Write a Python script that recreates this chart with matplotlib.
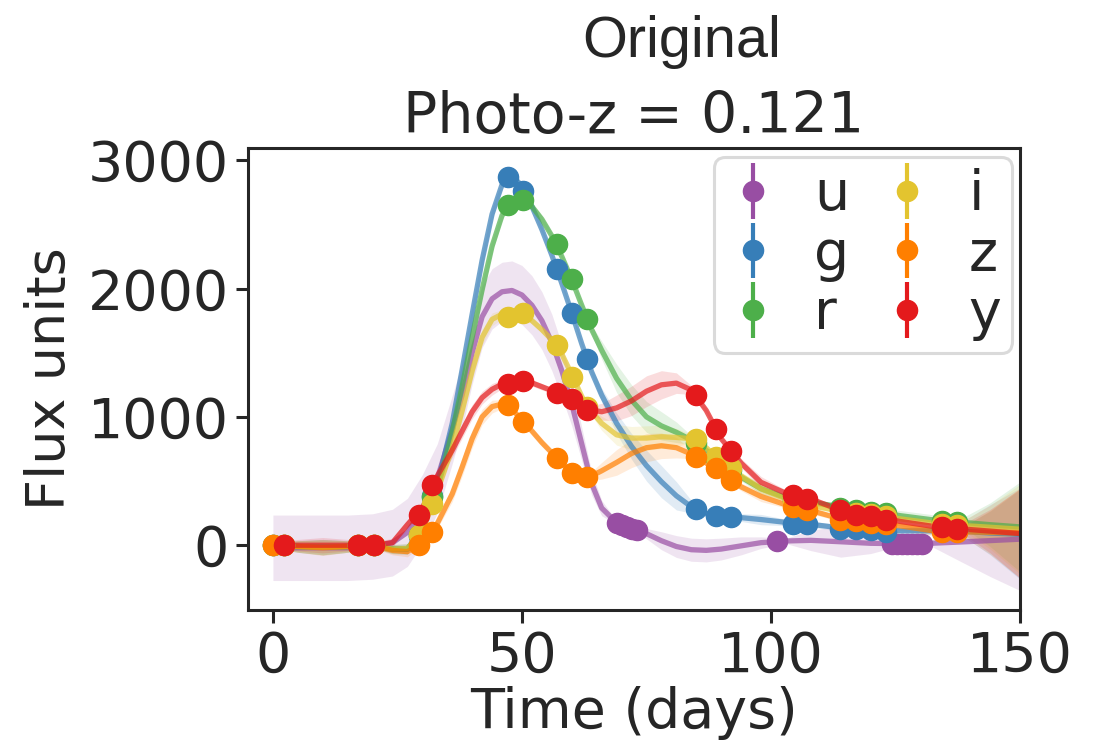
import numpy as np
import matplotlib
matplotlib.use("Agg")
import matplotlib.pyplot as plt
import seaborn as sns

# GP prediction grid (days) and per-band mean / std
T_GRID = [0, 5, 10, 15, 20, 24, 27, 30, 33,
          36, 38, 40, 42, 44, 46, 48, 50, 52, 54, 56, 58, 60, 62, 64, 66,
          69, 72, 75, 78, 81, 84, 87, 90, 94, 98, 103, 108, 114, 120, 126, 132, 138, 144, 150]

u_mean = [-20, -20, -20, -20, -10, 20, 100, 280, 520,
          900, 1170, 1500, 1780, 1920, 1975, 1985, 1950, 1870, 1750, 1580, 1360, 1100, 790, 480, 290,
          175, 140, 90, 35, -10, -35, -40, -30, -5, 20, 33, 38, 27, 15, 12, 15, 25, 36, 47]
g_mean = [0, -10, -15, -10, 0, -30, -30, 130, 470,
          950, 1370, 1800, 2220, 2580, 2810, 2880, 2800, 2640, 2460, 2260, 2040, 1810, 1570, 1350, 1170,
          950, 770, 620, 495, 385, 300, 245, 225, 215, 200, 178, 163, 135, 125, 112, 112, 110, 95, 85]
r_mean = [0, -10, -15, -10, 0, -30, -30, 130, 430,
          880, 1240, 1620, 1990, 2330, 2570, 2680, 2700, 2640, 2540, 2410, 2250, 2070, 1870, 1680, 1520,
          1300, 1130, 1000, 930, 880, 820, 740, 650, 530, 440, 370, 335, 300, 270, 230, 200, 180, 160, 143]
i_mean = [0, -10, -15, -10, 0, -30, -25, 110, 420,
          760, 1050, 1360, 1620, 1760, 1800, 1810, 1800, 1750, 1680, 1600, 1490, 1330, 1160, 1040, 950,
          860, 835, 835, 845, 840, 830, 760, 650, 540, 440, 360, 310, 265, 240, 205, 175, 155, 140, 125]
z_mean = [0, -10, -20, -10, 0, -40, -50, 20, 170,
          400, 610, 830, 1000, 1080, 1100, 1060, 975, 890, 800, 720, 640, 565, 530, 540, 580,
          645, 715, 760, 775, 760, 710, 640, 560, 455, 380, 315, 270, 205, 185, 150, 115, 105, 100, 95]
y_mean = [0, 0, 0, 0, 0, 20, 160, 290, 540,
          740, 890, 1040, 1150, 1215, 1255, 1275, 1280, 1265, 1235, 1205, 1175, 1140, 1090, 1055, 1040,
          1070, 1125, 1200, 1250, 1263, 1210, 1050, 830, 640, 490, 405, 360, 272, 235, 185, 150, 128, 110, 91]

u_std = [255, 255, 255, 255, 255, 260, 265, 270, 270,
         265, 255, 245, 240, 235, 230, 230, 230, 230, 225, 220, 205, 170, 130, 90, 60,
         15, 15, 40, 70, 85, 90, 90, 85, 70, 45, 20, 80, 120, 80, 15, 20, 150, 280, 400]
g_std = [20, 45, 60, 45, 20, 35, 40, 20, 40,
         60, 70, 70, 60, 50, 35, 20, 20, 25, 25, 20, 20, 20, 20, 30, 55,
         80, 100, 120, 125, 110, 50, 20, 20, 30, 40, 25, 25, 20, 20, 30, 30, 25, 170, 350]
r_std = [20, 45, 60, 45, 20, 35, 40, 20, 40,
         60, 70, 70, 60, 50, 35, 20, 20, 25, 25, 20, 20, 20, 20, 35, 70,
         110, 120, 120, 110, 80, 35, 20, 20, 30, 40, 25, 25, 20, 20, 40, 40, 25, 170, 350]
i_std = [20, 45, 60, 45, 20, 35, 40, 20, 40,
         60, 70, 70, 60, 50, 35, 20, 20, 25, 25, 20, 20, 20, 20, 30, 55,
         80, 90, 95, 90, 70, 30, 20, 20, 30, 40, 25, 25, 20, 20, 35, 35, 25, 170, 350]
z_std = [20, 45, 60, 45, 20, 35, 40, 20, 40,
         60, 70, 70, 60, 50, 35, 20, 20, 25, 25, 20, 20, 20, 20, 35, 65,
         100, 110, 110, 100, 80, 35, 20, 20, 30, 40, 25, 25, 20, 20, 35, 35, 25, 170, 350]
y_std = [20, 45, 60, 45, 20, 35, 40, 20, 45,
         55, 55, 55, 50, 45, 35, 20, 20, 25, 25, 20, 20, 20, 20, 35, 65,
         100, 115, 120, 110, 80, 35, 20, 20, 35, 45, 25, 25, 20, 20, 35, 35, 25, 170, 350]

# observations
t_u = [69.1, 70.1, 71.1, 72.1, 73.1, 101.2, 124.3, 125.3, 126.3, 127.3, 128.3, 129.3, 130.3]
f_u = [175, 160, 145, 130, 118, 31, 10, 10, 10, 10, 10, 10, 10]

t_obs = [0.0, 2.2, 17.0, 20.2, 29.3, 32.0, 47.2, 50.3, 57.1, 60.1, 63.1, 85.0, 89.0, 92.0,
         104.5, 107.3, 113.9, 117.0, 120.0, 123.0, 134.3, 137.4]
f_g = [0, 0, 0, 0, 70, 380, 2870, 2760, 2150, 1806, 1450, 281, 228, 221, 169, 169, 130, 125, 120, 104, 115, 112]
f_r = [0, 0, 0, 0, 80, 376, 2650, 2689, 2344, 2071, 1761, 800, 680, 590, 350, 335, 290, 275, 262, 250, 185, 178]
f_i = [0, 0, 0, 0, 78, 320, 1780, 1806, 1559, 1312, 1078, 831, 688, 598, 340, 315, 270, 255, 240, 225, 165, 155]
f_z = [0, 0, 0, 0, 0, 104, 1091, 961, 681, 559, 528, 688, 598, 507, 299, 273, 195, 185, 175, 165, 104, 100]

t_y = [2.2, 17.0, 20.2, 29.3, 32.0, 47.2, 50.3, 57.1, 60.1, 63.1, 85.0, 89.0, 92.0,
       104.5, 107.3, 113.9, 117.0, 120.0, 123.0, 134.3, 137.4]
f_y = [0, 0, 0, 234, 468, 1255, 1281, 1190, 1143, 1057, 1174, 909, 733, 390, 364, 273, 234, 229, 195, 143, 130]

bands = ['u', 'g', 'r', 'i', 'z', 'y']
colors = ['#984ea3', '#377eb8', '#4daf4a', '#e3c42f', '#ff7f00', '#e41a1c']
means = [u_mean, g_mean, r_mean, i_mean, z_mean, y_mean]
stds = [u_std, g_std, r_std, i_std, z_std, y_std]
times = [t_u, t_obs, t_obs, t_obs, t_obs, t_y]
fluxes = [f_u, f_g, f_r, f_i, f_z, f_y]

sns.set_style("ticks")
plt.rcParams['font.family'] = ['DejaVu Sans']
plt.rcParams['text.color'] = '.15'
plt.rcParams['axes.labelcolor'] = '.15'
plt.rcParams['xtick.color'] = '.15'
plt.rcParams['ytick.color'] = '.15'

fig = plt.figure(figsize=(10.94, 7.51), dpi=100)
ax = fig.add_axes([0.2267, 0.1877, 0.7057, 0.6152])

t_grid = np.array(T_GRID)
for b, c, m, s, t, f in zip(bands, colors, means, stds, times, fluxes):
    m = np.array(m)
    s = np.array(s)
    ax.fill_between(t_grid, m - s, m + s, color=c, alpha=0.15, lw=0)
    ax.plot(t_grid, m, color=c, lw=3.8, alpha=0.7, solid_joinstyle='round')
    ax.errorbar(t, f, yerr=np.full(len(t), 5.0), fmt='o', color=c, ms=14.5,
                elinewidth=3, label=b)

ax.set_xlim(-5, 150)
ax.set_ylim(-505, 3095)
ax.set_xticks([0, 50, 100, 150])
ax.set_yticks([0, 1000, 2000, 3000])
ax.tick_params(labelsize=40, length=9, width=2.2, pad=5)
for sp in ax.spines.values():
    sp.set_linewidth(2.2)
    sp.set_color('.15')

ax.set_xlabel('Time (days)', fontsize=40, labelpad=2)
ax.set_ylabel('Flux units', fontsize=39, labelpad=8)

fig.text(0.5795, 0.8229, 'Photo-z = 0.121', fontsize=41, ha='center', va='baseline')
fig.text(0.6234, 0.9241, 'Original', fontsize=41.5, ha='center', va='baseline',
         family=['Liberation Sans', 'DejaVu Sans'])

leg = ax.legend(loc='upper right', bbox_to_anchor=(0.99, 0.98), borderaxespad=0,
                ncol=2, fontsize=40, handlelength=1.0, handletextpad=0.6,
                columnspacing=0.55, labelspacing=0.1, borderpad=0.2, frameon=True)
leg.get_frame().set_edgecolor('0.82')
leg.get_frame().set_linewidth(2.2)

fig.savefig('out.png', dpi=100)
